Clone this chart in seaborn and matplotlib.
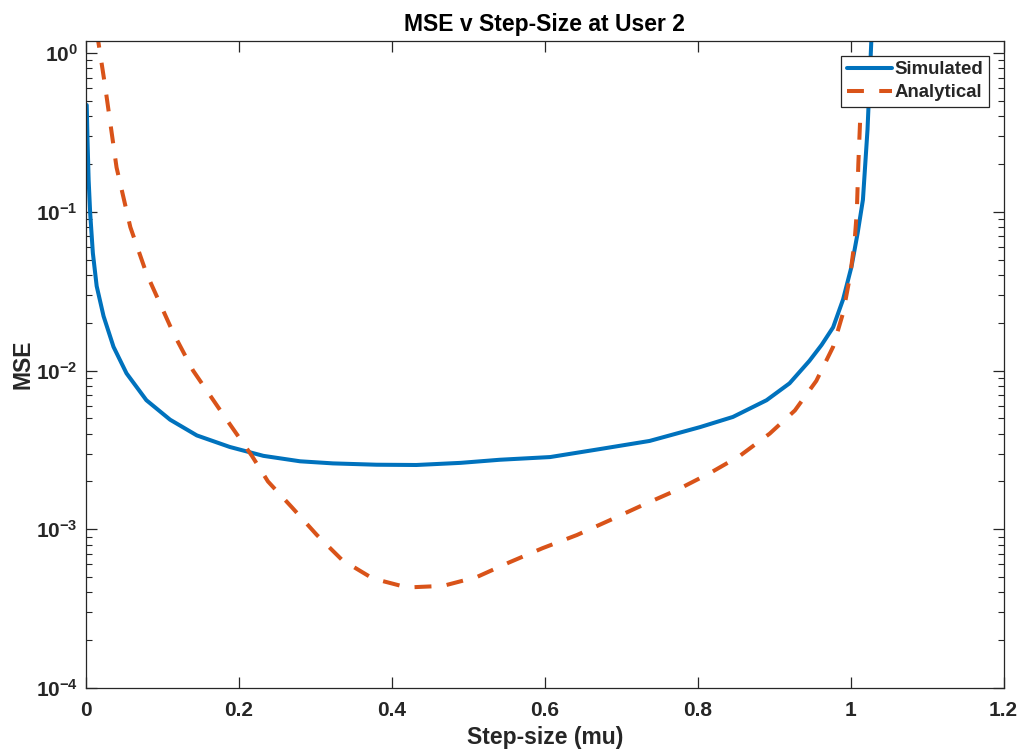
import numpy as np
import pandas as pd
import matplotlib
matplotlib.use("Agg")
import matplotlib.pyplot as plt
from matplotlib.ticker import FixedLocator, FixedFormatter, LogLocator, NullFormatter, FormatStrFormatter
import seaborn as sns

# values
mu_sim = [0.001, 0.002, 0.0035, 0.0055, 0.009, 0.014, 0.023, 0.036, 0.053, 0.079, 0.110,
          0.145, 0.188, 0.232, 0.28, 0.323, 0.38, 0.432, 0.49, 0.541, 0.607, 0.672,
          0.737, 0.803, 0.846, 0.89, 0.920, 0.946, 0.962, 0.977, 0.990, 1.001, 1.009,
          1.016, 1.022, 1.027, 1.032]
mse_sim = [0.47, 0.283, 0.158, 0.098, 0.055, 0.034, 0.022, 0.0141, 0.0096, 0.0065, 0.0049,
           0.0039, 0.0033, 0.0029, 0.00268, 0.0026, 0.00255, 0.00254, 0.00262, 0.00274, 0.00285, 0.0032,
           0.0036, 0.0044, 0.0051, 0.0065, 0.0083, 0.0115, 0.0145, 0.0187, 0.028, 0.045, 0.073,
           0.119, 0.33, 1.2, 4.0]

mu_ana = [0.008, 0.016, 0.025, 0.040, 0.058, 0.079, 0.114, 0.140, 0.184, 0.217, 0.238,
          0.269, 0.302, 0.335, 0.375, 0.42, 0.467, 0.511, 0.554, 0.597, 0.642, 0.685,
          0.728, 0.773, 0.816, 0.855, 0.894, 0.927, 0.955, 0.977, 0.990, 0.999, 1.005,
          1.008, 1.010, 1.013, 1.015]
mse_ana = [2.2, 1.19, 0.62, 0.19, 0.080, 0.041, 0.0173, 0.010, 0.0049, 0.0029, 0.0020,
           0.00138, 0.00092, 0.00064, 0.00049, 0.00043, 0.00044, 0.0005, 0.00062, 0.00076, 0.00092, 0.00114,
           0.00142, 0.00177, 0.00226, 0.0029, 0.0040, 0.0056, 0.0086, 0.0141, 0.023, 0.039, 0.064,
           0.10, 0.2, 0.45, 0.8]

x_ticks = [0, 0.2, 0.4, 0.6, 0.8, 1.0, 1.2]
y_ticks = [1e-4, 1e-3, 1e-2, 1e-1, 1e0]
y_labels = [r"$\mathbf{10^{-4}}$", r"$\mathbf{10^{-3}}$", r"$\mathbf{10^{-2}}$",
            r"$\mathbf{10^{-1}}$", r"$\mathbf{10^{0}}$"]

sns.set_theme(style="ticks")
plt.rcParams["font.family"] = ["Liberation Sans", "DejaVu Sans"]
plt.rcParams["mathtext.fontset"] = "custom"
plt.rcParams["mathtext.rm"] = "Liberation Sans"
plt.rcParams["mathtext.bf"] = "Liberation Sans:bold"

sim = pd.DataFrame({"mu": mu_sim, "mse": mse_sim})
ana = pd.DataFrame({"mu": mu_ana, "mse": mse_ana})

fig = plt.figure(figsize=(10.21, 7.56), dpi=100)
ax = fig.add_axes([0.0842, 0.0899, 0.8988, 0.8559])

sns.lineplot(data=sim, x="mu", y="mse", ax=ax, color="#0072BD", linewidth=2.9,
             label="Simulated")
sns.lineplot(data=ana, x="mu", y="mse", ax=ax, color="#D95319", linewidth=2.9,
             linestyle=(0, (4.2, 3.8)), label="Analytical")

ax.set_yscale("log")
ax.set_xlim(0, 1.2)
ax.set_ylim(1e-4, 1.19)

ax.xaxis.set_major_locator(FixedLocator(x_ticks))
ax.xaxis.set_major_formatter(FormatStrFormatter("%g"))
ax.yaxis.set_major_locator(FixedLocator(y_ticks))
ax.yaxis.set_major_formatter(FixedFormatter(y_labels))
ax.yaxis.set_minor_locator(LogLocator(base=10, subs=np.arange(2, 10)))
ax.yaxis.set_minor_formatter(NullFormatter())

edge = "#262626"
for s in ax.spines.values():
    s.set_color(edge)
    s.set_linewidth(0.9)
ax.tick_params(which="both", direction="in", top=True, right=True, color=edge)
ax.tick_params(which="major", length=8, width=0.9)
ax.tick_params(which="minor", length=4.5, width=0.8)
ax.tick_params(axis="x", which="major", pad=9, labelsize=15, labelcolor=edge)
ax.tick_params(axis="y", which="major", pad=6, labelsize=15, labelcolor=edge)
for lab in ax.get_xticklabels():
    lab.set_fontweight("bold")

ax.set_xlabel("Step-size (mu)", fontsize=16.5, fontweight="bold", color=edge, labelpad=5)
ax.set_ylabel("MSE", fontsize=16.5, fontweight="bold", color=edge, labelpad=1)
ax.set_title("MSE v Step-Size at User 2", fontsize=16.5, fontweight="bold", color="black", pad=7)

leg = ax.legend(loc="upper right", fontsize=13.4, frameon=True, fancybox=False,
                framealpha=1, edgecolor=edge, borderaxespad=0.8, borderpad=0.3,
                labelspacing=0.3, handlelength=2.4, handletextpad=0.15)
leg.get_frame().set_linewidth(0.9)
for t in leg.get_texts():
    t.set_fontweight("bold")

fig.savefig("out.png", dpi=100, facecolor="white")
